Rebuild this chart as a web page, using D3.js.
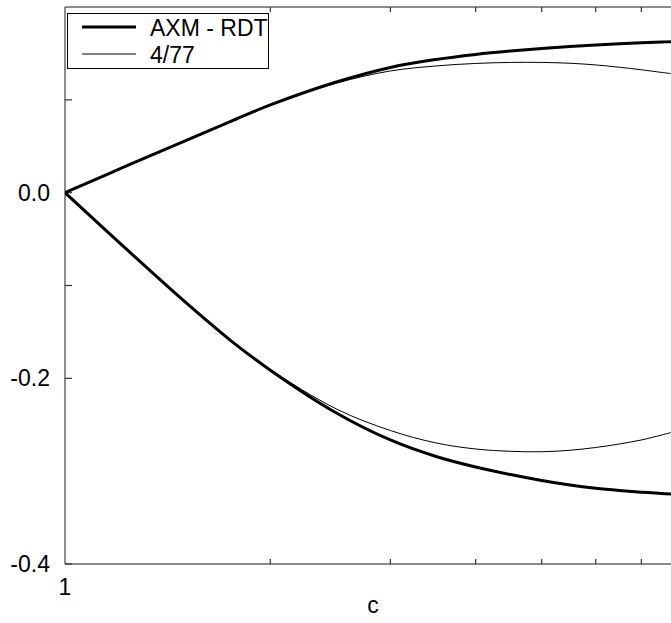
<!DOCTYPE html>
<html>
<head>
<meta charset="utf-8">
<script src="https://cdn.jsdelivr.net/npm/d3@7"></script>
<style>
html,body{margin:0;padding:0;background:#fff;}
svg{display:block;font-family:"Liberation Sans",Arial,sans-serif;}
</style>
</head>
<body>
<div id="chart"></div>
<script>
// ---- data ----
const cValues = [1, 1.25, 1.5, 1.75, 2, 2.5, 3, 3.5, 4, 4.5, 5, 5.5, 6, 6.5, 7, 7.5, 7.75];
const axmUpper = [0, 0.0309, 0.0557, 0.0767, 0.0945, 0.1192, 0.1349, 0.1435, 0.1489, 0.1526, 0.1553, 0.1575, 0.1591, 0.1604, 0.1615, 0.1623, 0.1627];
const axmLower = [0, -0.0654, -0.1177, -0.1593, -0.1912, -0.2373, -0.2664, -0.2842, -0.2955, -0.3036, -0.3100, -0.3149, -0.3184, -0.3208, -0.3226, -0.3240, -0.3246];
const s477Upper = [0, 0.0309, 0.0557, 0.0767, 0.0945, 0.1180, 0.1311, 0.1365, 0.1392, 0.1403, 0.1403, 0.1394, 0.1376, 0.1351, 0.1324, 0.1295, 0.1282];
const s477Lower = [0, -0.0654, -0.1177, -0.1590, -0.1905, -0.2330, -0.2562, -0.2696, -0.2761, -0.2786, -0.2791, -0.2775, -0.2745, -0.2707, -0.2664, -0.2610, -0.2583];
const seriesNames = ["AXM - RDT", "4/77"];
const yTickLabels = [0.0, -0.2, -0.4];
const yMinorTicks = [0.1, -0.1];
const xTicks = [2, 3, 4, 5, 6, 7, 8, 9];
const xLabel = "c";

// ---- layout ----
const W = 671, H = 623;
const mLeft = 65, mTop = 7, mBottom = 564;
const plotRight = mLeft + 682; // extends beyond the window (clipped)

const svg = d3.select("#chart").append("svg").attr("width", W).attr("height", H);

const x = d3.scaleLog().domain([1, 10]).range([mLeft, plotRight]);
const y = d3.scaleLinear().domain([-0.4, 0.2]).range([mBottom, mTop]);

svg.append("clipPath").attr("id", "clip")
  .append("rect").attr("x", mLeft).attr("y", mTop).attr("width", plotRight - mLeft).attr("height", mBottom - mTop);

const axisColor = "#666";
const frame = svg.append("g").attr("stroke", axisColor).attr("stroke-width", 1.5).attr("fill", "none");
frame.append("line").attr("x1", mLeft).attr("x2", mLeft).attr("y1", mTop).attr("y2", mBottom);
frame.append("line").attr("x1", mLeft).attr("x2", plotRight).attr("y1", mBottom).attr("y2", mBottom);
frame.append("line").attr("x1", mLeft).attr("x2", plotRight).attr("y1", mTop).attr("y2", mTop);

const tg = svg.append("g").attr("stroke", "#333").attr("stroke-width", 1.2);
xTicks.forEach(t => {
  tg.append("line").attr("x1", x(t)).attr("x2", x(t)).attr("y1", mBottom).attr("y2", mBottom - 5);
  tg.append("line").attr("x1", x(t)).attr("x2", x(t)).attr("y1", mTop).attr("y2", mTop + 5);
});
yTickLabels.concat(yMinorTicks).forEach(t => {
  tg.append("line").attr("x1", mLeft).attr("x2", mLeft + 7).attr("y1", y(t)).attr("y2", y(t));
});

svg.append("g").selectAll("text").data(yTickLabels).join("text")
  .attr("x", 50).attr("y", d => y(d)).attr("dy", "0.35em")
  .attr("text-anchor", "end").attr("font-size", 23).attr("fill", "#000")
  .text(d => d3.format(".1f")(d).replace("−", "-"));

svg.append("text").attr("x", x(1)).attr("y", mBottom + 31).attr("text-anchor", "middle")
  .attr("font-size", 23).text("1");
svg.append("text").attr("x", 373).attr("y", 613).attr("text-anchor", "middle")
  .attr("font-size", 23).text(xLabel);

const line = d3.line().x(d => x(d[0])).y(d => y(d[1])).curve(d3.curveCatmullRom.alpha(0.5));
const plot = svg.append("g").attr("clip-path", "url(#clip)");
const mk = arr => cValues.map((c, i) => [c, arr[i]]);
[[s477Upper, 1], [s477Lower, 1], [axmUpper, 3], [axmLower, 3]].forEach(([arr, w]) => {
  plot.append("path").attr("d", line(mk(arr))).attr("fill", "none")
    .attr("stroke", "#000").attr("stroke-width", w).attr("stroke-linejoin", "round");
});

const lg = svg.append("g");
lg.append("rect").attr("x", 67.5).attr("y", 13.5).attr("width", 201).attr("height", 55)
  .attr("fill", "#fff").attr("stroke", "#000").attr("stroke-width", 1);
[[seriesNames[0], 3, 27], [seriesNames[1], 1, 54]].forEach(([name, w, yy]) => {
  lg.append("line").attr("x1", 82).attr("x2", 136).attr("y1", yy).attr("y2", yy)
    .attr("stroke", "#000").attr("stroke-width", w);
  lg.append("text").attr("x", 150).attr("y", yy + 8.5).attr("font-size", 23).text(name);
});
</script>
</body>
</html>
